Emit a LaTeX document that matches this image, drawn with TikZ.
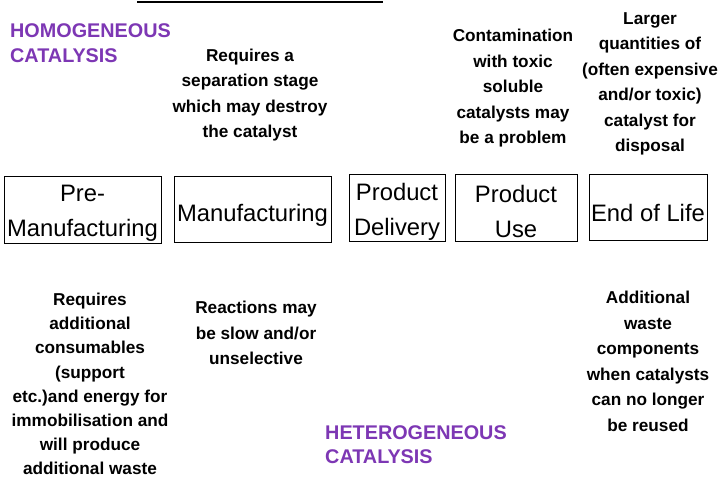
\documentclass[tikz,border=0pt]{standalone}
\usepackage{fontspec}
\setmainfont{Liberation Sans}
\usepackage{xcolor}
\definecolor{catpurple}{RGB}{125,55,180}
\usetikzlibrary{positioning}

\begin{document}
\begin{tikzpicture}[x=1pt, y=-1pt,
        stage/.style={draw, line width=0.9pt, inner sep=0pt},
        stagetext/.style={inner sep=0pt, align=center, yshift=-4pt,
                      font=\fontsize{23.8}{35}\selectfont},
        note/.style={inner sep=0pt, align=center, font=\fontsize{17.2}{25.5}\selectfont\bfseries},
        title/.style={inner sep=0pt, align=left, anchor=west, text=catpurple,
                      font=\fontsize{19.8}{24.5}\selectfont\bfseries},
    ]
        \useasboundingbox (0,0) rectangle (719,481);
        \draw[line width=2pt] (137,2) -- (383,2);

        % life cycle stages
        \node[stage, minimum width=157pt, minimum height=67pt, label={[stagetext]center:Pre-\\Manufacturing}] (premanu)  at (82.5,209.5) {};
        \node[stage, minimum width=157pt, minimum height=66pt, label={[stagetext, yshift=-2pt]center:Manufacturing}] (manu) at (252.5,209) {};
        \node[stage, minimum width=96pt,  minimum height=67pt, label={[stagetext]center:Product\\Delivery}] (delivery) at (397,207.5) {};
        \node[stage, minimum width=122pt, minimum height=67pt, label={[stagetext]center:Product\\Use}] (use) at (516,207.5) {};
        \node[stage, minimum width=118pt, minimum height=66pt, label={[stagetext, yshift=-2pt]center:End of Life}] (eol) at (648,207) {};

        % homogeneous
        \node[title] (homo) at (10,43) {HOMOGENEOUS\\CATALYSIS};
        \node[note] (sepnote) at (250,95) {Requires a\\separation stage\\which may destroy\\the catalyst};
        \node[note] (contam)  at (513,88.5) {Contamination\\with toxic\\soluble\\catalysts may\\be a problem};
        \node[note] (larger)  at (650,84)   {Larger\\quantities of\\(often expensive\\and/or toxic)\\catalyst for\\disposal};

        % heterogeneous
        \node[title] (hetero) at (325,444.5) {HETEROGENEOUS\\CATALYSIS};
        \node[note, font=\fontsize{17.2}{24.2}\selectfont\bfseries] (consum) at (90,384) {Requires\\additional\\consumables\\(support\\etc.)and energy for\\immobilisation and\\will produce\\additional waste};
        \node[note] (slow)   at (256,333)  {Reactions may\\be slow and/or\\unselective};
        \node[note] (waste)  at (648,361.5) {Additional\\waste\\components\\when catalysts\\can no longer\\be reused};
    \end{tikzpicture}
\end{document}
